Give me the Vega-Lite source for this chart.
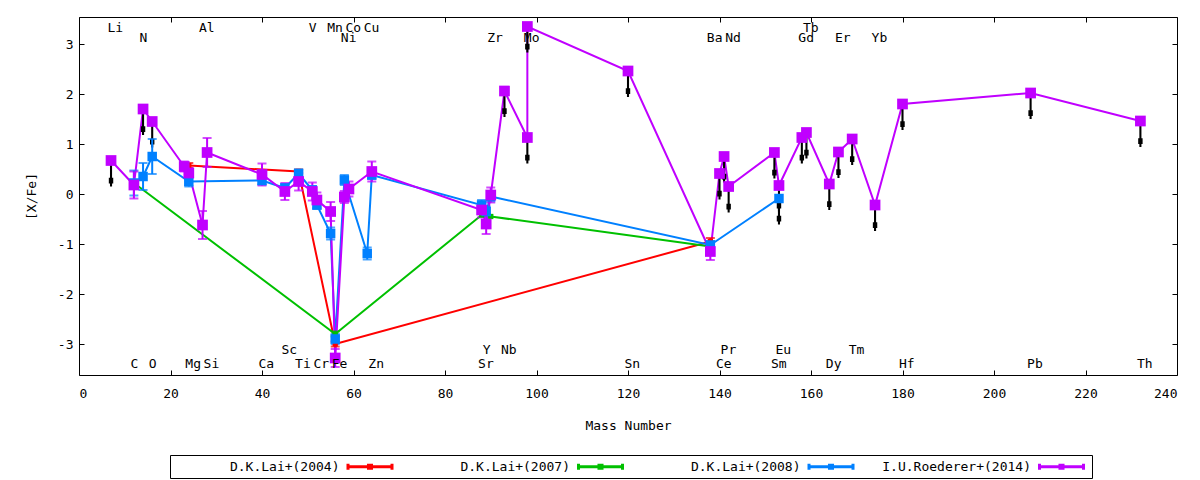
{
  "$schema": "https://vega.github.io/schema/vega-lite/v6.json",
  "width": 1098,
  "height": 358,
  "autosize": {"type": "none"},
  "padding": {"left": 79, "top": 17, "right": 23, "bottom": 105},
  "background": "white",
  "config": {
    "view": {"stroke": "black", "strokeWidth": 1},
    "font": "DejaVu Sans Mono",
    "axis": {
      "labelFont": "DejaVu Sans Mono", "titleFont": "DejaVu Sans Mono",
      "labelFontSize": 13, "titleFontSize": 13, "titleFontWeight": "normal",
      "labelColor": "black", "titleColor": "black", "tickColor": "black",
      "domain": false, "grid": false, "tickSize": -5
    },
    "legend": {"labelFont": "DejaVu Sans Mono", "labelFontSize": 13, "labelColor": "black"}
  },
  "datasets": {
    "pts": [
      {"series": "D.K.Lai+(2004)", "el": "Mg", "A": 24, "v": 0.57, "err": 0.05, "ul": false},
      {"series": "D.K.Lai+(2004)", "el": "Ti", "A": 48, "v": 0.45, "err": 0.04, "ul": false},
      {"series": "D.K.Lai+(2004)", "el": "Fe", "A": 56, "v": -3.0, "err": 0.05, "ul": false},
      {"series": "D.K.Lai+(2004)", "el": "Ba", "A": 138, "v": -0.95, "err": 0.07, "ul": false},
      {"series": "D.K.Lai+(2007)", "el": "C", "A": 12, "v": 0.22, "err": null, "ul": false},
      {"series": "D.K.Lai+(2007)", "el": "Fe", "A": 56, "v": -2.8, "err": 0.05, "ul": false},
      {"series": "D.K.Lai+(2007)", "el": "Sr", "A": 88, "v": -0.42, "err": null, "ul": false},
      {"series": "D.K.Lai+(2007)", "el": "Zr", "A": 90, "v": -0.45, "err": null, "ul": false},
      {"series": "D.K.Lai+(2007)", "el": "Ba", "A": 138, "v": -1.05, "err": null, "ul": false},
      {"series": "D.K.Lai+(2008)", "el": "C", "A": 12, "v": 0.22, "err": 0.25, "ul": false},
      {"series": "D.K.Lai+(2008)", "el": "N", "A": 14, "v": 0.35, "err": 0.27, "ul": false},
      {"series": "D.K.Lai+(2008)", "el": "O", "A": 16, "v": 0.75, "err": 0.35, "ul": false},
      {"series": "D.K.Lai+(2008)", "el": "Mg", "A": 24, "v": 0.25, "err": 0.1, "ul": false},
      {"series": "D.K.Lai+(2008)", "el": "Ca", "A": 40, "v": 0.27, "err": 0.08, "ul": false},
      {"series": "D.K.Lai+(2008)", "el": "Sc", "A": 45, "v": 0.12, "err": 0.08, "ul": false},
      {"series": "D.K.Lai+(2008)", "el": "Ti", "A": 48, "v": 0.41, "err": 0.08, "ul": false},
      {"series": "D.K.Lai+(2008)", "el": "V", "A": 51, "v": 0.08, "err": 0.08, "ul": false},
      {"series": "D.K.Lai+(2008)", "el": "Cr", "A": 52, "v": -0.22, "err": 0.08, "ul": false},
      {"series": "D.K.Lai+(2008)", "el": "Mn", "A": 55, "v": -0.79, "err": 0.12, "ul": false},
      {"series": "D.K.Lai+(2008)", "el": "Fe", "A": 56, "v": -2.9, "err": 0.1, "ul": false},
      {"series": "D.K.Lai+(2008)", "el": "Ni", "A": 58, "v": 0.28, "err": 0.1, "ul": false},
      {"series": "D.K.Lai+(2008)", "el": "Cu", "A": 63, "v": -1.19, "err": 0.12, "ul": false},
      {"series": "D.K.Lai+(2008)", "el": "Zn", "A": 64, "v": 0.38, "err": 0.08, "ul": false},
      {"series": "D.K.Lai+(2008)", "el": "Sr", "A": 88, "v": -0.22, "err": 0.1, "ul": false},
      {"series": "D.K.Lai+(2008)", "el": "Y", "A": 89, "v": -0.35, "err": 0.1, "ul": false},
      {"series": "D.K.Lai+(2008)", "el": "Zr", "A": 90, "v": -0.05, "err": 0.1, "ul": false},
      {"series": "D.K.Lai+(2008)", "el": "Ba", "A": 138, "v": -1.02, "err": 0.08, "ul": false},
      {"series": "D.K.Lai+(2008)", "el": "Eu", "A": 153, "v": -0.09, "err": null, "ul": true},
      {"series": "I.U.Roederer+(2014)", "el": "Li", "A": 7, "v": 0.67, "err": null, "ul": true},
      {"series": "I.U.Roederer+(2014)", "el": "C", "A": 12, "v": 0.18, "err": 0.27, "ul": false},
      {"series": "I.U.Roederer+(2014)", "el": "N", "A": 14, "v": 1.7, "err": null, "ul": true},
      {"series": "I.U.Roederer+(2014)", "el": "O", "A": 16, "v": 1.45, "err": null, "ul": true},
      {"series": "I.U.Roederer+(2014)", "el": "Na", "A": 23, "v": 0.55, "err": 0.1, "ul": false},
      {"series": "I.U.Roederer+(2014)", "el": "Mg", "A": 24, "v": 0.42, "err": 0.1, "ul": false},
      {"series": "I.U.Roederer+(2014)", "el": "Al", "A": 27, "v": -0.62, "err": 0.28, "ul": false},
      {"series": "I.U.Roederer+(2014)", "el": "Si", "A": 28, "v": 0.83, "err": 0.29, "ul": false},
      {"series": "I.U.Roederer+(2014)", "el": "Ca", "A": 40, "v": 0.39, "err": 0.22, "ul": false},
      {"series": "I.U.Roederer+(2014)", "el": "Sc", "A": 45, "v": 0.05, "err": 0.17, "ul": false},
      {"series": "I.U.Roederer+(2014)", "el": "Ti", "A": 48, "v": 0.25, "err": 0.18, "ul": false},
      {"series": "I.U.Roederer+(2014)", "el": "V", "A": 51, "v": 0.05, "err": 0.18, "ul": false},
      {"series": "I.U.Roederer+(2014)", "el": "Cr", "A": 52, "v": -0.12, "err": 0.15, "ul": false},
      {"series": "I.U.Roederer+(2014)", "el": "Mn", "A": 55, "v": -0.35, "err": 0.19, "ul": false},
      {"series": "I.U.Roederer+(2014)", "el": "Fe", "A": 56, "v": -3.28, "err": 0.18, "ul": false},
      {"series": "I.U.Roederer+(2014)", "el": "Ni", "A": 58, "v": -0.06, "err": 0.12, "ul": false},
      {"series": "I.U.Roederer+(2014)", "el": "Co", "A": 59, "v": 0.1, "err": 0.15, "ul": false},
      {"series": "I.U.Roederer+(2014)", "el": "Zn", "A": 64, "v": 0.45, "err": 0.2, "ul": false},
      {"series": "I.U.Roederer+(2014)", "el": "Sr", "A": 88, "v": -0.32, "err": 0.15, "ul": false},
      {"series": "I.U.Roederer+(2014)", "el": "Y", "A": 89, "v": -0.6, "err": 0.2, "ul": false},
      {"series": "I.U.Roederer+(2014)", "el": "Zr", "A": 90, "v": -0.02, "err": 0.15, "ul": false},
      {"series": "I.U.Roederer+(2014)", "el": "Nb", "A": 93, "v": 2.06, "err": null, "ul": true},
      {"series": "I.U.Roederer+(2014)", "el": "Mo", "A": 98, "v": 1.13, "err": null, "ul": true},
      {"series": "I.U.Roederer+(2014)", "el": "Tc", "A": 98, "v": 3.35, "err": null, "ul": true},
      {"series": "I.U.Roederer+(2014)", "el": "Sn", "A": 120, "v": 2.46, "err": null, "ul": true},
      {"series": "I.U.Roederer+(2014)", "el": "Ba", "A": 138, "v": -1.15, "err": 0.17, "ul": false},
      {"series": "I.U.Roederer+(2014)", "el": "Ce", "A": 140, "v": 0.41, "err": null, "ul": true},
      {"series": "I.U.Roederer+(2014)", "el": "Pr", "A": 141, "v": 0.75, "err": null, "ul": true},
      {"series": "I.U.Roederer+(2014)", "el": "Nd", "A": 142, "v": 0.15, "err": null, "ul": true},
      {"series": "I.U.Roederer+(2014)", "el": "Sm", "A": 152, "v": 0.83, "err": null, "ul": true},
      {"series": "I.U.Roederer+(2014)", "el": "Eu", "A": 153, "v": 0.17, "err": null, "ul": true},
      {"series": "I.U.Roederer+(2014)", "el": "Gd", "A": 158, "v": 1.13, "err": null, "ul": true},
      {"series": "I.U.Roederer+(2014)", "el": "Tb", "A": 159, "v": 1.23, "err": null, "ul": true},
      {"series": "I.U.Roederer+(2014)", "el": "Dy", "A": 164, "v": 0.2, "err": null, "ul": true},
      {"series": "I.U.Roederer+(2014)", "el": "Er", "A": 166, "v": 0.84, "err": null, "ul": true},
      {"series": "I.U.Roederer+(2014)", "el": "Tm", "A": 169, "v": 1.1, "err": null, "ul": true},
      {"series": "I.U.Roederer+(2014)", "el": "Yb", "A": 174, "v": -0.22, "err": null, "ul": true},
      {"series": "I.U.Roederer+(2014)", "el": "Hf", "A": 180, "v": 1.8, "err": null, "ul": true},
      {"series": "I.U.Roederer+(2014)", "el": "Pb", "A": 208, "v": 2.02, "err": null, "ul": true},
      {"series": "I.U.Roederer+(2014)", "el": "Th", "A": 232, "v": 1.46, "err": null, "ul": true}
    ],
    "labels": [
      {"el": "Li", "A": 7, "ly": 3.33}, {"el": "Al", "A": 27, "ly": 3.33}, {"el": "V", "A": 51, "ly": 3.33},
      {"el": "Mn", "A": 55, "ly": 3.33}, {"el": "Co", "A": 59, "ly": 3.33}, {"el": "Cu", "A": 63, "ly": 3.33},
      {"el": "Tb", "A": 159, "ly": 3.33},
      {"el": "N", "A": 14, "ly": 3.13}, {"el": "Ni", "A": 58, "ly": 3.13}, {"el": "Zr", "A": 90, "ly": 3.13},
      {"el": "Mo", "A": 98, "ly": 3.13}, {"el": "Ba", "A": 138, "ly": 3.13}, {"el": "Nd", "A": 142, "ly": 3.13},
      {"el": "Gd", "A": 158, "ly": 3.13}, {"el": "Er", "A": 166, "ly": 3.13}, {"el": "Yb", "A": 174, "ly": 3.13},
      {"el": "Sc", "A": 45, "ly": -3.11}, {"el": "Y", "A": 89, "ly": -3.11}, {"el": "Nb", "A": 93, "ly": -3.11},
      {"el": "Pr", "A": 141, "ly": -3.11}, {"el": "Eu", "A": 153, "ly": -3.11}, {"el": "Tm", "A": 169, "ly": -3.11},
      {"el": "C", "A": 12, "ly": -3.39}, {"el": "O", "A": 16, "ly": -3.39}, {"el": "Mg", "A": 24, "ly": -3.39},
      {"el": "Si", "A": 28, "ly": -3.39}, {"el": "Ca", "A": 40, "ly": -3.39}, {"el": "Ti", "A": 48, "ly": -3.39},
      {"el": "Cr", "A": 52, "ly": -3.39}, {"el": "Fe", "A": 56, "ly": -3.39}, {"el": "Zn", "A": 64, "ly": -3.39},
      {"el": "Sr", "A": 88, "ly": -3.39}, {"el": "Sn", "A": 120, "ly": -3.39}, {"el": "Ce", "A": 140, "ly": -3.39},
      {"el": "Sm", "A": 152, "ly": -3.39}, {"el": "Dy", "A": 164, "ly": -3.39}, {"el": "Hf", "A": 180, "ly": -3.39},
      {"el": "Pb", "A": 208, "ly": -3.39}, {"el": "Th", "A": 232, "ly": -3.39}
    ]
  },
  "layer": [
    {
      "data": {"name": "pts"},
      "mark": {"type": "line", "strokeWidth": 2},
      "encoding": {
        "x": {"field": "A", "type": "quantitative",
              "scale": {"domain": [0, 240], "nice": false, "zero": false},
              "axis": {"orient": "bottom", "title": "Mass Number", "values": [0,20,40,60,80,100,120,140,160,180,200,220,240],
                       "labelPadding": 17, "titlePadding": 19}},
        "y": {"field": "v", "type": "quantitative",
              "scale": {"domain": [-3.62, 3.54], "nice": false, "zero": false},
              "axis": {"orient": "left", "title": "[X/Fe]", "values": [-3,-2,-1,0,1,2,3],
                       "labelExpr": "'' + datum.value", "labelPadding": 11, "titlePadding": 19}},
        "stroke": {"field": "series", "type": "nominal",
                  "scale": {"domain": ["D.K.Lai+(2004)", "D.K.Lai+(2007)", "D.K.Lai+(2008)", "I.U.Roederer+(2014)"],
                            "range": ["#ff0000", "#00c000", "#0080ff", "#c000ff"]},
                  "legend": {"orient": "none", "legendX": 91, "legendY": 438, "direction": "horizontal", "columns": 4,
                             "title": null, "strokeColor": "black", "padding": 2, "labelLimit": 300, "columnPadding": 4.5,
                             "symbolType": "M-2.75,0H2.75M-2.75,-0.375V0.375M2.75,-0.375V0.375M-0.19,-0.19H0.19V0.19H-0.19Z",
                             "symbolSize": 256, "symbolStrokeWidth": 3,
                             "encode": {
                               "symbols": {"update": {
                                 "shape": {"value": "M-2.75,0H2.75M-2.75,-0.375V0.375M2.75,-0.375V0.375M-0.19,-0.19H0.19V0.19H-0.19Z"},
                                 "size": {"value": 256}, "strokeWidth": {"value": 3}, "x": {"value": 198}}},
                               "labels": {"update": {"x": {"value": 167.5}, "align": {"value": "right"}}}
                             }}}
      }
    },
    {
      "data": {"name": "pts"},
      "transform": [{"filter": "datum.ul"}],
      "mark": {"type": "point", "shape": "M-0.04,0H0.04V1H-0.04Z M-0.085,0.66H0.085V0.88H-0.085Z",
               "size": 2704, "filled": true, "color": "black", "opacity": 1, "strokeWidth": 0},
      "encoding": {
        "x": {"field": "A", "type": "quantitative",
              "axis": {"orient": "top", "labels": false, "title": null, "values": [0,20,40,60,80,100,120,140,160,180,200,220,240]}},
        "y": {"field": "v", "type": "quantitative",
              "axis": {"orient": "right", "labels": false, "title": null, "values": [-3,-2,-1,0,1,2,3]}}
      }
    },
    {
      "data": {"name": "pts"},
      "transform": [{"filter": "datum.err != null"}],
      "mark": {"type": "errorbar", "ticks": {"size": 9, "thickness": 2}, "rule": {"strokeWidth": 2}},
      "encoding": {
        "x": {"field": "A", "type": "quantitative", "axis": null},
        "y": {"field": "v", "type": "quantitative", "axis": null},
        "yError": {"field": "err"},
        "color": {"field": "series", "type": "nominal", "legend": null,
                  "scale": {"domain": ["D.K.Lai+(2004)", "D.K.Lai+(2007)", "D.K.Lai+(2008)", "I.U.Roederer+(2014)"],
                            "range": ["#ff0000", "#00c000", "#0080ff", "#c000ff"]}}
      }
    },
    {
      "data": {"name": "pts"},
      "mark": {"type": "point", "shape": "square", "filled": true, "opacity": 1},
      "encoding": {
        "x": {"field": "A", "type": "quantitative", "axis": null},
        "y": {"field": "v", "type": "quantitative", "axis": null},
        "color": {"field": "series", "type": "nominal", "legend": null},
        "size": {"condition": [
                   {"test": "datum.series === 'I.U.Roederer+(2014)'", "value": 115},
                   {"test": "datum.series === 'D.K.Lai+(2008)'", "value": 90}
                 ], "value": 28}
      }
    },
    {
      "data": {"name": "labels"},
      "mark": {"type": "text", "align": "left", "baseline": "middle", "dx": -3.5, "fontSize": 13, "font": "DejaVu Sans Mono", "color": "black"},
      "encoding": {
        "x": {"field": "A", "type": "quantitative", "axis": null},
        "y": {"field": "ly", "type": "quantitative", "axis": null},
        "text": {"field": "el"}
      }
    }
  ]
}
